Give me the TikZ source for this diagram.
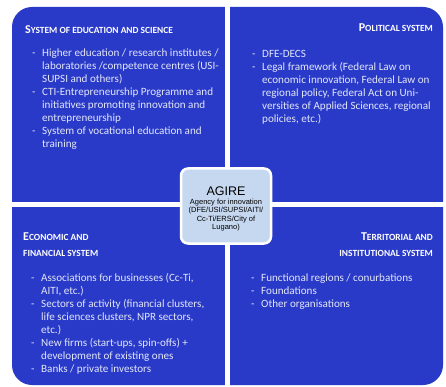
\documentclass[tikz,border=0pt]{standalone}
\usepackage{fontspec}
\setmainfont{Carlito}
\newfontfamily\agfont{Liberation Sans}
\definecolor{qblue}{RGB}{42,58,200}
\definecolor{agbox}{RGB}{198,216,240}
\definecolor{btext}{RGB}{225,230,248}
\newcommand\hbig[1]{{\fontsize{12}{14}\selectfont #1}}
\newcommand\hsmall[1]{{\fontsize{9.4}{14}\selectfont #1}}
\newenvironment{blist}{\begin{tabular}[t]{@{}p{10pt}@{}l@{}}}{\end{tabular}}
\tikzset{
  quad/.style={fill=qblue},
  head/.style={font=\bfseries, text=white, inner sep=0pt},
  body/.style={text=btext, inner sep=0pt, anchor=base west,
    font=\fontsize{11.1}{13}\selectfont},
  agirebox/.style={draw=white, line width=2.5pt, fill=agbox, rounded corners=7pt,
    minimum width=90pt, minimum height=75pt}
}
\begin{document}
\begin{tikzpicture}[x=1pt,y=-1pt]
\useasboundingbox (0,0) rectangle (446,387);
% quadrants
\fill[quad, rounded corners=20pt] (12,7) rectangle (443,385);
\fill[white] (225,0) rectangle (230,387);
\fill[white] (0,202) rectangle (446,207);

% headings
\node[head, anchor=base west] (h1) at (25,34) {\hbig{S}\hsmall{YSTEM OF EDUCATION AND SCIENCE}};
\node[head, anchor=base east] (h2) at (433,32) {\hbig{P}\hsmall{OLITICAL SYSTEM}};
\node[head, anchor=base west] (h3a) at (23,240) {\hbig{E}\hsmall{CONOMIC AND}};
\node[head, anchor=base west] (h3b) at (23,256) {\hsmall{FINANCIAL SYSTEM}};
\node[head, anchor=base east] (h4a) at (433,240) {\hbig{T}\hsmall{ERRITORIAL AND}};
\node[head, anchor=base east] (h4b) at (433,256) {\hsmall{INSTITUTIONAL SYSTEM}};

% bodies
\node[body] (b1) at (32,57) {\begin{blist}
- & Higher education / research institutes /\\
 & laboratories /competence centres (USI-\\
 & SUPSI and others)\\
- & CTI-Entrepreneurship Programme and\\
 & initiatives promoting innovation and\\
 & entrepreneurship\\
- & System of vocational education and\\
 & training
\end{blist}};
\node[body] (b2) at (252,57.5) {\begin{blist}
- & DFE-DECS\\
- & Legal framework (Federal Law on\\
 & economic innovation, Federal Law on\\
 & regional policy, Federal Act on Uni-\\
 & versities of Applied Sciences, regional\\
 & policies, etc.)
\end{blist}};
\node[body] (b3) at (31,281) {\begin{blist}
- & Associations for businesses (Cc-Ti,\\
 & AITI, etc.)\\
- & Sectors of activity (financial clusters,\\
 & life sciences clusters, NPR sectors,\\
 & etc.)\\
- & New firms (start-ups, spin-offs) +\\
 & development of existing ones\\
- & Banks / private investors
\end{blist}};
\node[body] (b4) at (251,281) {\begin{blist}
- & Functional regions / conurbations\\
- & Foundations\\
- & Other organisations
\end{blist}};

% centre box
\node[agirebox] (ag) at (226,206) {};
\node[font=\agfont\fontsize{12.5}{13}\selectfont, inner sep=0pt, anchor=base] (agt) at (226,196) {AGIRE};
\node[font=\agfont\fontsize{7.5}{8.5}\selectfont, inner sep=0pt, align=center, anchor=north] (ags) at (226,198.5)
 {Agency for innovation\\(DFE/USI/SUPSI/AITI/\\Cc-Ti/ERS/City of\\Lugano)};
\end{tikzpicture}
\end{document}
